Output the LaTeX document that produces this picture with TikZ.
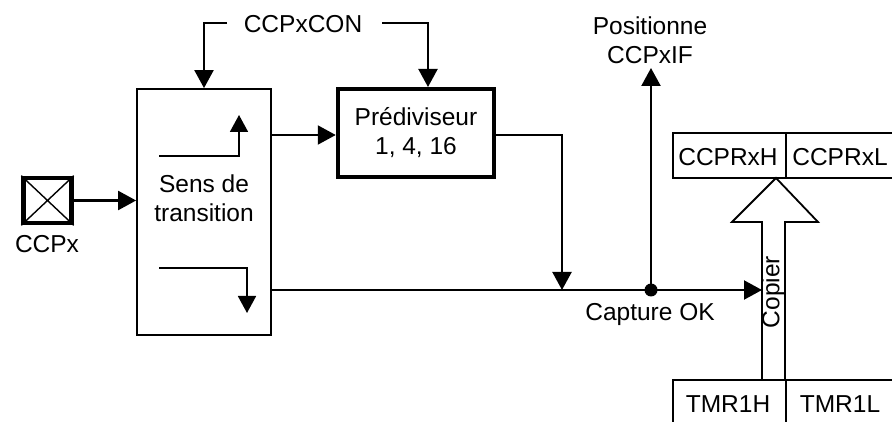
\documentclass[tikz,border=0pt]{standalone}
\usepackage{fontspec}
\setmainfont{Liberation Sans}
\usetikzlibrary{arrows.meta}
\begin{document}
\begin{tikzpicture}[x=1pt,y=-1pt,
  txt/.style={font=\fontsize{24.5}{29}\selectfont, inner sep=0pt, align=center},
  thinbox/.style={draw, line width=1.8pt, inner sep=0pt},
  thickbox/.style={draw, line width=4.5pt, inner sep=0pt},
  conn/.style={line width=2.2pt},
  arr/.style={conn, -{Triangle[length=18pt,width=19pt]}},
  small arr/.style={line width=1.8pt, -{Triangle[length=17pt,width=18pt]}}
]
\useasboundingbox (0,0) rectangle (892,422);
\clip (0,0) rectangle (892,422);
\fill[white] (0,0) rectangle (892,422);

% pin
\node[thickbox, minimum width=48pt, minimum height=45pt] (pin) at (47.5,200.5) {};
\draw[line width=1.4pt] (pin.north west) -- (pin.south east) (pin.north east) -- (pin.south west);
\node[txt, anchor=base] (pinlbl) at (47,253) {CCPx};

% edge-detect box
\node[thinbox, minimum width=134pt, minimum height=246pt] (sens) at (204,212) {};
\node[txt] (senslbl) at (204,198) {Sens de\\transition};
\coordinate (r1) at (159,156);
\coordinate (r2) at (239,156);
\coordinate (r3) at (239,115);
\draw[small arr] (r1) -- (r2) -- (r3);
\coordinate (f1) at (159,268);
\coordinate (f2) at (247,268);
\coordinate (f3) at (247,313);
\draw[small arr] (f1) -- (f2) -- (f3);

% prescaler
\node[thickbox, minimum width=156pt, minimum height=88pt, txt] (pre) at (416,133) {Prédiviseur\\1, 4, 16};

% CCPxCON
\node[txt, anchor=base] (con) at (303,33) {CCPxCON};
\coordinate (conL) at (227,23);
\coordinate (conR) at (382,23);
\draw[arr] (conL) -- (204,23) -- (sens.north);
\draw[arr] (conR) -- (428,23) -- (428,87);

% pin -> sens
\draw[arr] (pin.east) -- (sens.west |- pin.east);
% sens -> pre
\draw[arr] (sens.east |- 0,135) -- (pre.west |- 0,135);

% registers
\node[thinbox, minimum width=113pt, minimum height=45pt] (ccprh) at (729.5,155.5) {};
\node[thinbox, minimum width=114pt, minimum height=45pt] (ccprl) at (843,155.5) {};
\node[txt, anchor=base] at (728,166) {CCPRxH};
\node[txt, anchor=base] at (840,166) {CCPRxL};
\node[thinbox, minimum width=113pt, minimum height=60pt] (tmrh) at (729.5,410) {};
\node[thinbox, minimum width=114pt, minimum height=60pt] (tmrl) at (843,410) {};
\node[txt, anchor=base] at (728,412) {TMR1H};
\node[txt, anchor=base] at (840,412) {TMR1L};

% copy arrow
\draw[line width=1.8pt, fill=white] (776,178) -- (818,222) -- (785,222) -- (785,380)
  -- (762,380) -- (762,222) -- (732,222) -- cycle;
\node[txt, rotate=90] (copier) at (773,292) {Copier};

% main capture line
\coordinate (cap) at (762,290);
\coordinate (dot) at (651,290);
\draw[arr] (sens.east |- cap) -- (cap);
\fill (dot) circle (6.5pt);
\node[txt, anchor=base] (capok) at (650,320) {Capture OK};

% prescaler output
\draw[arr] (pre.east |- 0,135) -- (562,135) -- (562,290);

% set flag
\node[txt] (flag) at (650,40) {Positionne\\CCPxIF};
\draw[arr] (dot) -- (651,68);
\end{tikzpicture}
\end{document}
